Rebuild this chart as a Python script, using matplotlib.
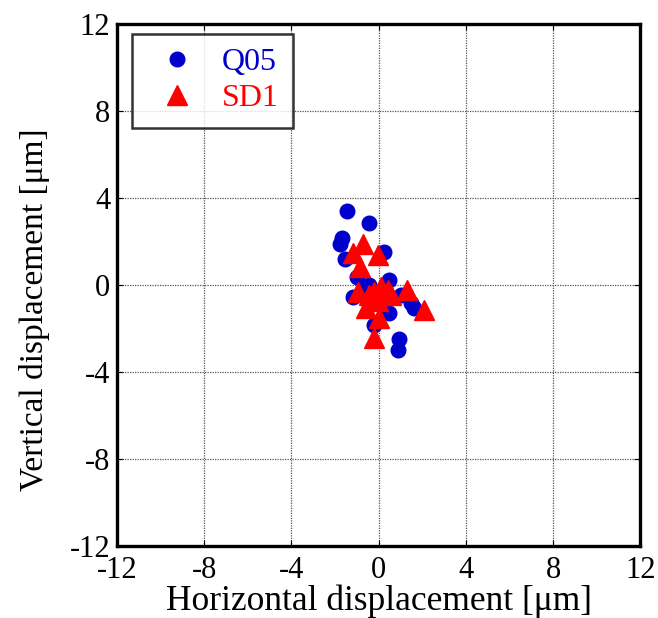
import matplotlib
matplotlib.use("Agg")
import matplotlib.pyplot as plt

plt.rcParams['font.family'] = ['Liberation Serif', 'DejaVu Serif']
plt.rcParams['axes.unicode_minus'] = False

# Q05 measurements (um)
q05_x = [-1.45, -0.43, -1.70, -1.76, 0.26, -1.53, -1.01, 0.49, -0.43, -1.19,
         1.02, 1.48, 1.64, 0.49, -0.20, 0.95, 0.90, -0.28, 0.10, -0.60]
q05_y = [3.41, 2.86, 2.14, 1.87, 1.53, 1.18, 0.38, 0.23, 0.00, -0.54,
         -0.46, -0.84, -1.07, -1.30, -1.83, -2.48, -2.98, -0.61, -0.30, -0.20]

# SD1 measurements (um)
sd1_x = [-0.73, -1.19, -0.05, -0.86, -0.96, 0.11, -0.20, 0.41, 1.28, -0.05,
         -0.58, 2.09, 0.00, -0.20, 0.57, -0.43]
sd1_y = [1.87, 1.45, 1.38, 0.84, -0.31, -0.08, -0.31, -0.23, -0.23, -0.76,
         -1.07, -1.15, -1.53, -2.42, -0.46, -0.46]

ticks = [-12, -8, -4, 0, 4, 8, 12]

fig = plt.figure(figsize=(6.58, 6.18), dpi=100)
ax = fig.add_axes([0.178, 0.1165, 0.795, 0.845])

ax.plot(q05_x, q05_y, 'o', color='#0000cc', markersize=10.5, label='Q05', zorder=3)
ax.plot(sd1_x, sd1_y, '^', color='#ff0000', markersize=15, label='SD1', zorder=4)

ax.set_xlim(-12, 12)
ax.set_ylim(-12, 12)
ax.set_xticks(ticks)
ax.set_yticks(ticks)
ax.grid(True, color='#555555', linestyle=(0, (1, 1)), linewidth=0.9)
ax.tick_params(direction='in', top=True, right=True, length=4, labelsize=22)
ax.tick_params(axis='x', pad=7)
ax.tick_params(axis='y', pad=5)
for s in ax.spines.values():
    s.set_linewidth(2.4)

ax.set_xlabel('Horizontal displacement [\u03bcm]', fontsize=25.5, labelpad=0)
ax.set_ylabel('Vertical displacement [\u03bcm]', fontsize=24)
ax.yaxis.set_label_coords(-0.128, 0.452)

leg = ax.legend(loc='upper left', fontsize=23, frameon=True, fancybox=False,
                edgecolor='black', borderpad=0.45, handletextpad=0.45,
                handlelength=1.9, labelspacing=0.2, borderaxespad=0,
                bbox_to_anchor=(0.029, 0.981))
leg.get_frame().set_linewidth(1.8)
leg.get_texts()[0].set_color('#0000cc')
leg.get_texts()[1].set_color('#ff0000')

fig.savefig('out.png', dpi=100)
